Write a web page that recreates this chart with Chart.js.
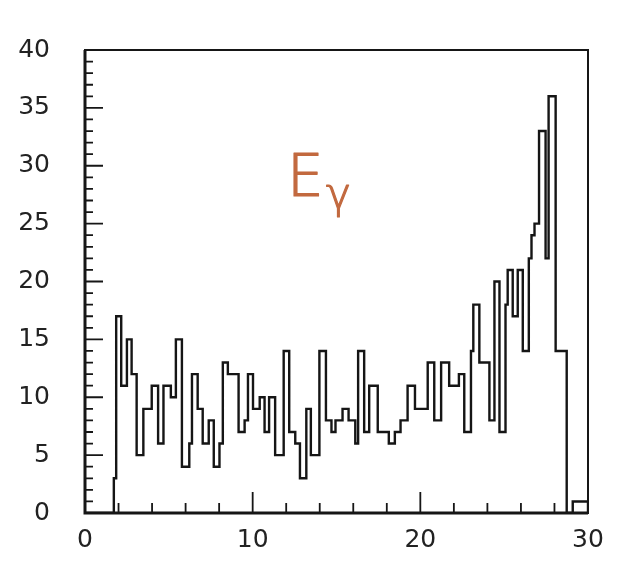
<!DOCTYPE html>
<html>
<head>
<meta charset="utf-8">
<title>E-gamma histogram</title>
<script src="https://cdn.jsdelivr.net/npm/chart.js@4.4.1/dist/chart.umd.min.js"></script>
<style>
  html, body { margin: 0; padding: 0; background: #fff; }
  #wrap { width: 618px; height: 563px; }
</style>
</head>
<body>
<div id="wrap"><canvas id="hist" width="618" height="563"></canvas></div>
<script>
/* ============================================================
   E_gamma spectrum - step histogram
   ============================================================ */

// left edge of each step and the count that starts there
const binEdges = [
  0, 1.72, 1.86, 2.16, 2.50, 2.78, 3.08, 3.48, 3.98, 4.36, 4.68,
  5.12, 5.42, 5.78, 6.22, 6.38, 6.72, 7.02, 7.38, 7.68, 8.02,
  8.22, 8.52, 9.16, 9.52, 9.72, 10.02, 10.42, 10.71, 10.98, 11.34,
  11.85, 12.18, 12.54, 12.82, 13.20, 13.47, 13.98, 14.37, 14.70, 14.94,
  15.36, 15.72, 16.12, 16.29, 16.65, 16.95, 17.46, 18.12, 18.48, 18.82,
  19.24, 19.68, 20.44, 20.83, 21.24, 21.72, 22.30, 22.62, 23.02, 23.16,
  23.52, 24.12, 24.42, 24.72, 25.08, 25.21, 25.51, 25.81, 26.11, 26.47,
  26.63, 26.81, 27.08, 27.47, 27.65, 28.07, 28.73, 29.09, 30
];
const binCounts = [
  0, 3, 17, 11, 15, 12, 5, 9, 11, 6, 11,
  10, 15, 4, 6, 12, 9, 6, 8, 4, 6,
  13, 12, 7, 8, 12, 9, 10, 7, 10, 5,
  14, 7, 6, 3, 9, 5, 14, 8, 7, 8,
  9, 8, 6, 14, 7, 11, 7, 6, 7, 8,
  11, 9, 13, 8, 13, 11, 12, 7, 14, 18,
  13, 8, 20, 7, 18, 21, 17, 21, 14, 22,
  24, 25, 33, 22, 36, 14, 0, 1, 0
];

const xTickLabels = [0, 10, 20, 30];
const yTickLabels = [0, 5, 10, 15, 20, 25, 30, 35, 40];
const plotLabel = 'E';
const plotLabelSub = 'γ';

const labelFont = { family: '"DejaVu Sans", sans-serif', size: 25 };

// inward tick marks, frame and the hand written label
const framePlugin = {
  id: 'frame',
  afterDraw(chart) {
    const { ctx, chartArea: a, scales: { x, y } } = chart;
    ctx.save();
    ctx.strokeStyle = '#161616';
    ctx.lineCap = 'butt';

    ctx.lineWidth = 1.8;
    ctx.beginPath();
    for (let v = y.min + 1; v < y.max; v++) {
      const py = y.getPixelForValue(v);
      ctx.moveTo(a.left, py);
      ctx.lineTo(a.left + (v % 5 === 0 ? 18 : 8), py);
    }
    for (let v = x.min + 2; v < x.max; v += 2) {
      const px = x.getPixelForValue(v);
      ctx.moveTo(px, a.bottom);
      ctx.lineTo(px, a.bottom - (v % 10 === 0 ? 21 : 10));
    }
    ctx.stroke();

    ctx.lineWidth = 2;
    ctx.strokeRect(a.left, a.top, a.right - a.left, a.bottom - a.top);
    ctx.lineWidth = 3;
    ctx.beginPath();
    ctx.moveTo(a.left, a.top);
    ctx.lineTo(a.left, a.bottom);
    ctx.lineTo(a.right, a.bottom);
    ctx.stroke();

    // hand written E_gamma, copper ink
    ctx.fillStyle = '#c2693f';
    ctx.strokeStyle = '#c2693f';
    ctx.lineWidth = 1.2;
    ctx.lineJoin = 'round';
    ctx.textBaseline = 'alphabetic';
    ctx.font = '200 58px "DejaVu Sans"';
    ctx.fillText(plotLabel, 287, 196);
    ctx.strokeText(plotLabel, 287, 196);
    ctx.font = '200 42px "DejaVu Sans"';
    ctx.fillText(plotLabelSub, 326, 208);
    ctx.strokeText(plotLabelSub, 326, 208);
    ctx.restore();
  }
};

new Chart(document.getElementById('hist'), {
  type: 'line',
  data: {
    datasets: [{
      data: binEdges.map((e, i) => ({ x: e, y: binCounts[i] })),
      // 'before' = hold the previous count, then jump at the next edge
      stepped: 'before',
      borderColor: '#151515',
      borderWidth: 2.4,
      pointRadius: 0,
      fill: false,
    }]
  },
  options: {
    responsive: false,
    animation: false,
    devicePixelRatio: 1,
    layout: { padding: { top: 23, right: 30, left: 0, bottom: 0 } },
    plugins: { legend: { display: false }, tooltip: { enabled: false } },
    scales: {
      x: {
        type: 'linear', min: 0, max: 30,
        afterBuildTicks: s => { s.ticks = xTickLabels.map(v => ({ value: v })); },
        afterFit: s => { s.height = 43; },
        ticks: { color: '#222', font: labelFont, padding: 12, autoSkip: false, maxRotation: 0 },
        grid: { display: false, drawTicks: false },
        border: { display: false },
      },
      y: {
        type: 'linear', min: 0, max: 40,
        afterBuildTicks: s => { s.ticks = yTickLabels.map(v => ({ value: v })); },
        afterFit: s => { s.width = 85; },
        ticks: { color: '#222', font: labelFont, padding: 35, autoSkip: false },
        grid: { display: false, drawTicks: false },
        border: { display: false },
      }
    }
  },
  plugins: [framePlugin]
});
</script>
</body>
</html>
